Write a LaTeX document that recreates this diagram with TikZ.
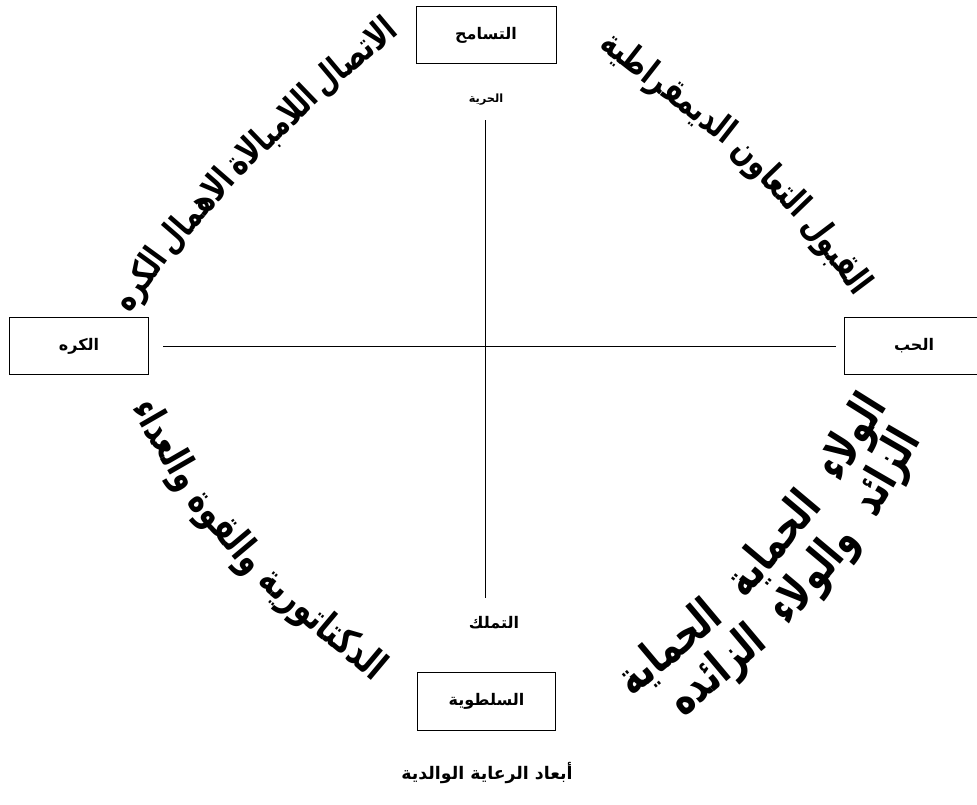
\documentclass[tikz,border=0pt]{standalone}
\usepackage{fontspec}
\usepackage{graphicx}
\TeXXeTstate=1
\newfontfamily\arabicfont[Script=Arabic]{DejaVu Sans}
\newcommand\arw[1]{\beginR #1\endR}
\newcommand\tallw[1]{\scalebox{1}[1.35]{\beginR #1\endR}}
\begin{document}
\begin{tikzpicture}[x=0.75pt,y=-0.75pt,
  lbl/.style={font=\arabicfont\bfseries\fontsize{12}{14}\selectfont, inner sep=0pt},
  sml/.style={font=\arabicfont\bfseries\fontsize{8.5}{10}\selectfont, inner sep=0pt},
  boxnode/.style={draw, line width=0.6pt, minimum height=43pt, inner sep=0pt},
  bigw/.style={font=\arabicfont\bfseries\fontsize{20}{24}\selectfont, inner ysep=0pt, inner xsep=3pt, anchor=base east},
  hugew/.style={bigw, font=\arabicfont\bfseries\fontsize{26}{30}\selectfont},
  axis/.style={line width=0.6pt}]
\useasboundingbox (0,0) rectangle (977,804);
\clip (0,0) rectangle (977,804);
% boxes
\node[boxnode, minimum width=105pt, lbl] (top) at (486,35) {\arw{التسامح}};
\node[boxnode, minimum width=104pt, lbl] (bot) at (486.5,701.5) {\arw{السلطوية}};
\node[boxnode, minimum width=104pt, lbl] (lft) at (79,346) {\arw{الكره}};
\node[boxnode, minimum width=105pt, lbl] (rgt) at (914,346) {\arw{الحب}};
% axis labels
\node[sml] (free) at (486,100) {\arw{الحرية}};
\node[lbl] (own) at (494,623) {\arw{التملك}};
\node[lbl, font=\arabicfont\bfseries\fontsize{13}{15}\selectfont] (cap) at (487,773) {\arw{أبعاد الرعاية الوالدية}};
% axes
\coordinate (vt) at (485,120);
\coordinate (vb) at (485,598);
\coordinate (hl) at (163,346);
\coordinate (hr) at (836,346);
\draw[axis] (vt) -- (vb);
\draw[axis] (hl) -- (hr);
% top-left phrase (starts at top right)
\node[bigw, rotate=40, inner xsep=1.5pt] (tl4) at (401,32) {\tallw{الاتصال}};
\node[bigw, rotate=44, inner xsep=1.5pt] (tl3) at (tl4.base west) {\tallw{اللامبالاة}};
\node[bigw, rotate=49, inner xsep=1.5pt] (tl2) at (tl3.base west) {\tallw{الاهمال}};
\node[bigw, rotate=54, inner xsep=1.5pt] (tl1) at (tl2.base west) {\tallw{الكره}};
% top-right phrase (starts at bottom right)
\node[bigw, rotate=-53] (tr3) at (858,300) {\tallw{القبول}};
\node[bigw, rotate=-46] (tr2) at (tr3.base west) {\tallw{التعاون}};
\node[bigw, rotate=-38] (tr1) at (tr2.base west) {\tallw{الديمقراطية}};
% bottom-left phrase (starts at bottom right)
\node[bigw, rotate=-40, inner xsep=4pt, font=\arabicfont\bfseries\fontsize{22}{26}\selectfont] (bl3) at (378,686) {\tallw{الدكتاتورية}};
\node[bigw, rotate=-50, inner xsep=4pt, font=\arabicfont\bfseries\fontsize{22}{26}\selectfont] (bl2) at (bl3.base west) {\tallw{والقوة}};
\node[bigw, rotate=-60, inner xsep=4pt, font=\arabicfont\bfseries\fontsize{22}{26}\selectfont] (bl1) at (bl2.base west) {\tallw{والعداء}};
% bottom-right phrase, line 1 (starts at top right)
\node[hugew, rotate=58, inner xsep=11pt] (br1) at (896,394) {\tallw{الولاء}};
\node[hugew, rotate=50, inner xsep=11pt] (br2) at (br1.base west) {\tallw{الحماية}};
\node[hugew, rotate=40, inner xsep=11pt] (br3) at (br2.base west) {\tallw{الحماية}};
% line 2
\node[hugew, rotate=60, inner xsep=10pt] (br4) at (928,428) {\tallw{الزائد}};
\node[hugew, rotate=50, inner xsep=10pt] (br5) at (br4.base west) {\tallw{والولاء}};
\node[hugew, rotate=40, inner xsep=10pt] (br6) at (br5.base west) {\tallw{الزائده}};
\end{tikzpicture}
\end{document}
